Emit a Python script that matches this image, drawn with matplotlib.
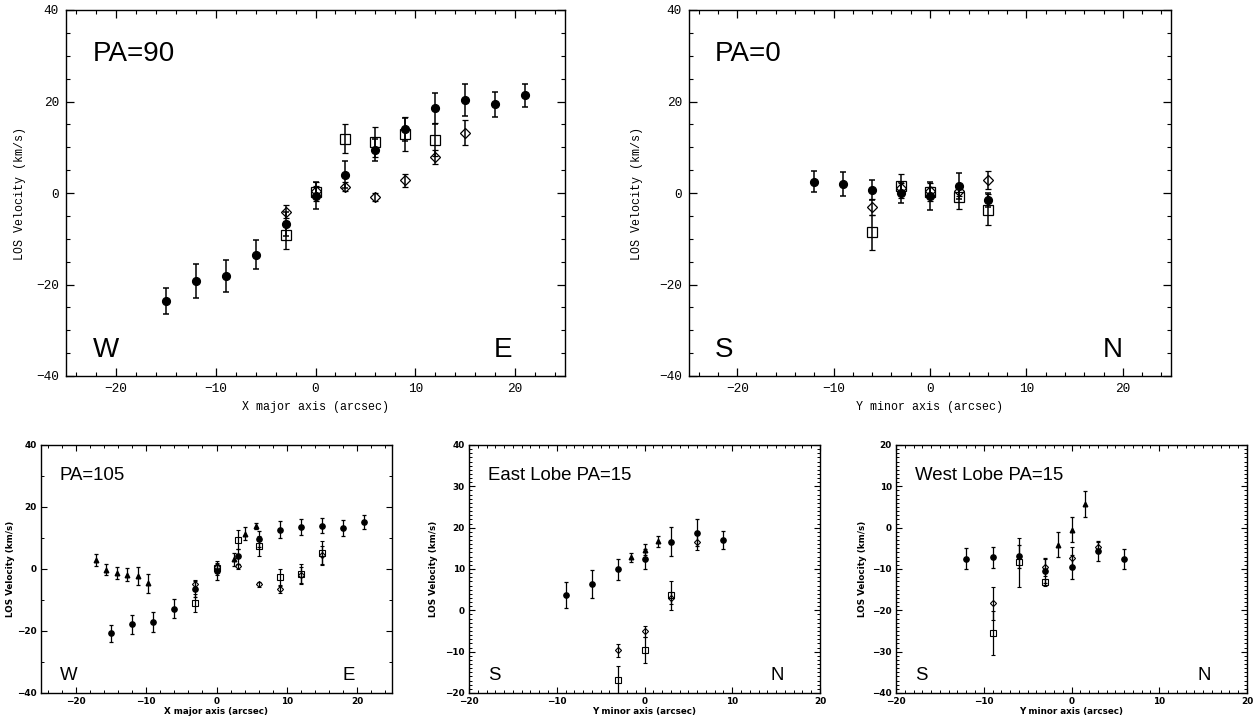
import matplotlib
matplotlib.use("Agg")
import matplotlib.pyplot as plt
from matplotlib.ticker import MultipleLocator

# ---------------- DATA ----------------
# Panel PA=90
pa90_circ_x = [-15, -12, -9, -6, -3, 0, 3, 6, 9, 12, 15, 18, 21]
pa90_circ_v = [-23.6, -19.2, -18.2, -13.5, -6.8, -0.6, 4.0, 9.4, 13.9, 18.5, 20.3, 19.4, 21.4]
pa90_circ_e = [2.9, 3.7, 3.5, 3.2, 2.6, 3.0, 3.0, 2.4, 2.6, 3.4, 3.5, 2.7, 2.5]
pa90_sq_x = [-3, 0, 3, 6, 9, 12]
pa90_sq_v = [-9.2, 0.3, 11.9, 11.2, 12.9, 11.6]
pa90_sq_e = [3.1, 2.0, 3.2, 3.3, 3.7, 3.6]
pa90_dia_x = [-3, 0, 3, 6, 9, 12, 15]
pa90_dia_v = [-4.1, 0.5, 1.35, -0.9, 2.8, 7.9, 13.2]
pa90_dia_e = [1.4, 1.0, 1.0, 0.8, 1.4, 1.6, 2.8]

# Panel PA=0
pa0_circ_x = [-12, -9, -6, -3, 0, 3, 6]
pa0_circ_v = [2.5, 2.0, 0.6, 0.1, -0.7, 1.5, -1.6]
pa0_circ_e = [2.3, 2.6, 2.2, 2.2, 3.0, 2.8, 1.5]
pa0_sq_x = [-6, -3, 0, 3, 6]
pa0_sq_v = [-8.6, 1.6, 0.2, -0.9, -3.7]
pa0_sq_e = [3.8, 2.6, 2.0, 2.7, 3.4]
pa0_dia_x = [-6, -3, 0, 3, 6]
pa0_dia_v = [-3.1, 1.1, 0.4, 0.4, 2.8]
pa0_dia_e = [1.8, 1.0, 1.0, 1.0, 1.9]

# Panel PA=105
pa105_circ_x = [-15, -12, -9, -6, -3, 0, 3, 6, 9, 12, 15, 18, 21]
pa105_circ_v = [-20.8, -17.9, -17.1, -12.8, -6.4, -0.7, 4.1, 9.6, 12.7, 13.6, 14.0, 13.2, 15.1]
pa105_circ_e = [2.7, 3.2, 3.2, 3.0, 2.6, 2.7, 2.5, 2.6, 2.7, 2.5, 2.5, 2.7, 2.2]
pa105_sq_x = [-3, 0, 3, 6, 9, 12, 15]
pa105_sq_v = [-11.0, 0.3, 9.5, 7.3, -2.6, -1.6, 5.2]
pa105_sq_e = [2.8, 2.2, 3.0, 3.2, 2.7, 3.2, 3.8]
pa105_dia_x = [-3, 0, 3, 6, 9, 12, 15]
pa105_dia_v = [-4.9, 0.5, 0.9, -4.9, -6.6, -2.0, 4.5]
pa105_dia_e = [1.3, 1.0, 0.8, 0.8, 1.0, 2.5, 3.0]
pa105_tri_x = [-17.2, -15.7, -14.2, -12.7, -11.2, -9.7, 2.5, 4.1, 5.6]
pa105_tri_v = [3.0, -0.2, -1.3, -1.8, -2.3, -4.6, 3.1, 11.4, 14.0]
pa105_tri_e = [2.0, 1.8, 1.8, 2.0, 2.9, 3.1, 2.0, 2.1, 1.0]

# Panel East Lobe PA=15
east_circ_x = [-9, -6, -3, 0, 3, 6, 9]
east_circ_v = [3.7, 6.4, 9.9, 12.5, 16.6, 18.8, 17.0]
east_circ_e = [3.2, 3.4, 2.5, 2.4, 3.5, 3.2, 2.2]
east_sq_x = [-3, 0, 3]
east_sq_v = [-16.9, -9.6, 3.6]
east_sq_e = [3.5, 3.2, 3.5]
east_dia_x = [-3, 0, 3, 6]
east_dia_v = [-9.7, -5.1, 3.0, 16.6]
east_dia_e = [1.6, 1.3, 1.5, 2.0]
east_tri_x = [-1.5, 0, 1.5]
east_tri_v = [12.8, 14.7, 16.7]
east_tri_e = [1.1, 1.3, 1.3]

# Panel West Lobe PA=15
west_circ_x = [-12, -9, -6, -3, 0, 3, 6]
west_circ_v = [-7.5, -7.2, -6.9, -10.4, -9.4, -5.7, -7.6]
west_circ_e = [2.5, 2.5, 2.8, 3.0, 2.9, 2.4, 2.4]
west_sq_x = [-9, -6, -3]
west_sq_v = [-25.5, -8.4, -13.2]
west_sq_e = [5.4, 6.0, 0.8]
west_dia_x = [-9, -3, 0, 3]
west_dia_v = [-18.3, -9.6, -7.3, -4.7]
west_dia_e = [4.0, 2.0, 2.6, 1.3]
west_tri_x = [-1.5, 0, 1.5]
west_tri_v = [-4.1, -0.5, 5.8]
west_tri_e = [3.1, 3.0, 3.1]

# ---------------- FIGURE ----------------
W, H = 1254, 724
fig = plt.figure(figsize=(W / 100, H / 100), dpi=100)


def rect(l, r, t, b):
    return [l / W, (H - b) / H, (r - l) / W, (b - t) / H]


def draw_series(ax, x, v, e, kind, big):
    if big:
        ms = {'o': 5.6, 's': 6.8, 'D': 4.6, '^': 4.5}[kind]
        cs, elw, mew = 1.9, 1.1, 0.9
    else:
        ms = {'o': 3.8, 's': 4.3, 'D': 3.1, '^': 3.3}[kind]
        cs, elw, mew = 1.2, 0.9, 0.8
    if kind in ('o', '^'):
        ax.errorbar(x, v, yerr=e, fmt=kind, color='black', ms=ms, mec='black',
                    mfc='black', ecolor='black', elinewidth=elw, capsize=cs,
                    capthick=elw, zorder=3)
    else:
        ax.errorbar(x, v, yerr=e, fmt=kind, color='black', ms=ms, mec='black',
                    mfc='none', mew=mew, ecolor='black', elinewidth=elw,
                    capsize=cs, capthick=elw, zorder=3)


def style_axes(ax, big, xlim, ylim, xmaj, xmin, ymaj, ymin, xlabel):
    ax.set_xlim(*xlim)
    ax.set_ylim(*ylim)
    ax.xaxis.set_major_locator(MultipleLocator(xmaj))
    ax.xaxis.set_minor_locator(MultipleLocator(xmin))
    ax.yaxis.set_major_locator(MultipleLocator(ymaj))
    ax.yaxis.set_minor_locator(MultipleLocator(ymin))
    for s in ax.spines.values():
        s.set_linewidth(1.0)
    if big:
        ax.tick_params(which='major', direction='in', length=6, width=0.9,
                       top=True, right=True, pad=5)
        ax.tick_params(which='minor', direction='in', length=3, width=0.8,
                       top=True, right=True)
        for lab in ax.get_xticklabels() + ax.get_yticklabels():
            lab.set_fontfamily('Liberation Mono')
            lab.set_fontsize(9.2)
        ax.set_xlabel(xlabel, fontfamily='Liberation Mono', fontsize=8.4)
        ax.set_ylabel('LOS Velocity (km/s)', fontfamily='Liberation Mono', fontsize=8.4)
    else:
        ax.tick_params(which='major', direction='in', length=4, width=0.8,
                       top=True, right=True, pad=3)
        ax.tick_params(which='minor', direction='in', length=2, width=0.7,
                       top=True, right=True)
        for lab in ax.get_xticklabels() + ax.get_yticklabels():
            lab.set_fontfamily('DejaVu Sans')
            lab.set_fontweight('bold')
            lab.set_fontsize(6.4)
        ax.set_xlabel(xlabel, fontfamily='DejaVu Sans', fontweight='bold', fontsize=6.3)
        ax.set_ylabel('LOS Velocity (km/s)', fontfamily='DejaVu Sans',
                      fontweight='bold', fontsize=6.3)


def labels(ax, title, left, right, size):
    kw = dict(transform=ax.transAxes, fontfamily='Liberation Sans', fontsize=size,
              va='baseline', ha='left')
    ax.text(0.053, 0.86, title, **kw)
    ax.text(0.053, 0.053, left, **kw)
    ax.text(0.858, 0.053, right, **kw)


# Top-left: PA=90
ax1 = fig.add_axes(rect(66, 565, 10, 376))
draw_series(ax1, pa90_circ_x, pa90_circ_v, pa90_circ_e, 'o', True)
draw_series(ax1, pa90_sq_x, pa90_sq_v, pa90_sq_e, 's', True)
draw_series(ax1, pa90_dia_x, pa90_dia_v, pa90_dia_e, 'D', True)
style_axes(ax1, True, (-25, 25), (-40, 40), 10, 2, 20, 5, 'X major axis (arcsec)')
ax1.xaxis.set_label_coords(0.5, -0.068)
ax1.yaxis.set_label_coords(-0.08, 0.5)
labels(ax1, 'PA=90', 'W', 'E', 20)

# Top-right: PA=0
ax2 = fig.add_axes(rect(689, 1171, 10, 376))
draw_series(ax2, pa0_circ_x, pa0_circ_v, pa0_circ_e, 'o', True)
draw_series(ax2, pa0_sq_x, pa0_sq_v, pa0_sq_e, 's', True)
draw_series(ax2, pa0_dia_x, pa0_dia_v, pa0_dia_e, 'D', True)
style_axes(ax2, True, (-25, 25), (-40, 40), 10, 2, 20, 5, 'Y minor axis (arcsec)')
ax2.xaxis.set_label_coords(0.5, -0.068)
ax2.yaxis.set_label_coords(-0.095, 0.5)
labels(ax2, 'PA=0', 'S', 'N', 20)

# Bottom-left: PA=105
ax3 = fig.add_axes(rect(41, 392, 445, 693))
draw_series(ax3, pa105_circ_x, pa105_circ_v, pa105_circ_e, 'o', False)
draw_series(ax3, pa105_sq_x, pa105_sq_v, pa105_sq_e, 's', False)
draw_series(ax3, pa105_dia_x, pa105_dia_v, pa105_dia_e, 'D', False)
draw_series(ax3, pa105_tri_x, pa105_tri_v, pa105_tri_e, '^', False)
style_axes(ax3, False, (-25, 25), (-40, 40), 10, 2, 20, 10, 'X major axis (arcsec)')
ax3.xaxis.set_label_coords(0.5, -0.058)
ax3.yaxis.set_label_coords(-0.075, 0.5)
labels(ax3, 'PA=105', 'W', 'E', 13.4)

# Bottom-middle: East Lobe
ax4 = fig.add_axes(rect(469, 820, 445, 693))
draw_series(ax4, east_circ_x, east_circ_v, east_circ_e, 'o', False)
draw_series(ax4, east_sq_x, east_sq_v, east_sq_e, 's', False)
draw_series(ax4, east_dia_x, east_dia_v, east_dia_e, 'D', False)
draw_series(ax4, east_tri_x, east_tri_v, east_tri_e, '^', False)
style_axes(ax4, False, (-20, 20), (-20, 40), 10, 1, 10, 1, 'Y minor axis (arcsec)')
ax4.xaxis.set_label_coords(0.5, -0.058)
ax4.yaxis.set_label_coords(-0.088, 0.5)
labels(ax4, 'East Lobe PA=15', 'S', 'N', 13.4)

# Bottom-right: West Lobe
ax5 = fig.add_axes(rect(896, 1247, 445, 693))
draw_series(ax5, west_circ_x, west_circ_v, west_circ_e, 'o', False)
draw_series(ax5, west_sq_x, west_sq_v, west_sq_e, 's', False)
draw_series(ax5, west_dia_x, west_dia_v, west_dia_e, 'D', False)
draw_series(ax5, west_tri_x, west_tri_v, west_tri_e, '^', False)
style_axes(ax5, False, (-20, 20), (-40, 20), 10, 1, 10, 1, 'Y minor axis (arcsec)')
ax5.xaxis.set_label_coords(0.5, -0.058)
ax5.yaxis.set_label_coords(-0.083, 0.5)
labels(ax5, 'West Lobe PA=15', 'S', 'N', 13.4)

fig.savefig('out.png', dpi=100)
